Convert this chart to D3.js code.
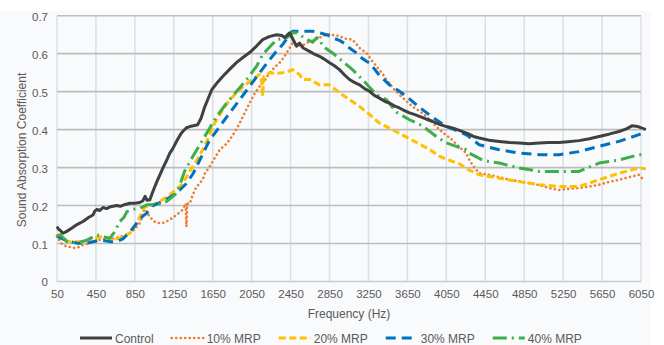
<!DOCTYPE html>
<html>
<head>
<meta charset="utf-8">
<script src="https://cdn.jsdelivr.net/npm/d3@7"></script>
<style>
  body { margin: 0; background: #fff; }
  text { font-family: "Liberation Sans", Arial, sans-serif; fill: #595959; }
</style>
</head>
<body>
<div id="chart"></div>
<script>
// chart size
var svgWidth = 664;
var svgHeight = 345;

// data: [frequency (Hz), coefficient]
var xTicks = d3.range(50, 6051, 400);
var yTicks = [0, 0.1, 0.2, 0.3, 0.4, 0.5, 0.6, 0.7];
var seriesNames = ["Control", "10% MRP", "20% MRP", "30% MRP", "40% MRP"];

var control = [[50,0.145],[65,0.138],[81,0.135],[112,0.127],[150,0.132],[200,0.14],[255,0.15],[317,0.158],[370,0.168],[419,0.175],[440,0.186],[460,0.19],[490,0.187],[522,0.195],[560,0.192],[600,0.197],[665,0.2],[700,0.198],[750,0.203],[800,0.206],[850,0.206],[900,0.208],[930,0.212],[955,0.224],[975,0.214],[1004,0.215],[1035,0.237],[1076,0.263],[1106,0.28],[1140,0.3],[1178,0.32],[1209,0.338],[1240,0.35],[1280,0.37],[1320,0.388],[1342,0.395],[1380,0.405],[1414,0.408],[1450,0.41],[1496,0.413],[1530,0.43],[1568,0.46],[1600,0.48],[1640,0.505],[1700,0.525],[1752,0.54],[1820,0.558],[1896,0.577],[1960,0.59],[2029,0.603],[2100,0.62],[2163,0.637],[2230,0.645],[2306,0.65],[2360,0.648],[2388,0.642],[2420,0.65],[2440,0.655],[2470,0.64],[2511,0.62],[2542,0.628],[2580,0.615],[2645,0.606],[2700,0.598],[2747,0.593],[2800,0.585],[2850,0.576],[2900,0.568],[2952,0.558],[3000,0.545],[3055,0.532],[3100,0.525],[3158,0.518],[3210,0.508],[3260,0.501],[3310,0.49],[3363,0.483],[3420,0.474],[3465,0.47],[3520,0.462],[3568,0.457],[3620,0.45],[3671,0.444],[3720,0.44],[3773,0.435],[3840,0.428],[3906,0.422],[3980,0.414],[4050,0.408],[4120,0.404],[4183,0.398],[4265,0.39],[4330,0.382],[4388,0.378],[4490,0.372],[4593,0.369],[4700,0.366],[4798,0.365],[4900,0.363],[5004,0.365],[5100,0.366],[5209,0.366],[5300,0.368],[5414,0.371],[5520,0.376],[5619,0.382],[5720,0.388],[5824,0.395],[5900,0.402],[5957,0.41],[6020,0.408],[6060,0.404],[6100,0.4]];

var mrp10 = [[50,0.12],[81,0.105],[112,0.096],[153,0.092],[200,0.09],[235,0.088],[286,0.092],[330,0.098],[380,0.1],[430,0.105],[491,0.11],[560,0.112],[624,0.113],[700,0.118],[768,0.122],[799,0.128],[850,0.138],[901,0.154],[930,0.175],[953,0.197],[975,0.18],[1004,0.171],[1040,0.16],[1076,0.154],[1137,0.154],[1190,0.16],[1240,0.168],[1300,0.18],[1342,0.189],[1372,0.205],[1380,0.145],[1388,0.205],[1414,0.205],[1445,0.228],[1480,0.248],[1517,0.259],[1547,0.268],[1570,0.285],[1619,0.303],[1670,0.325],[1722,0.347],[1780,0.36],[1824,0.373],[1880,0.395],[1927,0.417],[1980,0.445],[2029,0.47],[2080,0.495],[2132,0.514],[2190,0.532],[2235,0.55],[2290,0.565],[2337,0.576],[2380,0.59],[2409,0.602],[2440,0.615],[2470,0.628],[2511,0.62],[2573,0.622],[2614,0.628],[2680,0.635],[2747,0.642],[2800,0.648],[2850,0.652],[2900,0.648],[2952,0.647],[3000,0.64],[3055,0.638],[3086,0.637],[3127,0.625],[3158,0.615],[3229,0.602],[3290,0.58],[3332,0.567],[3400,0.545],[3434,0.532],[3500,0.51],[3568,0.492],[3640,0.475],[3701,0.461],[3780,0.448],[3845,0.435],[3910,0.418],[3978,0.4],[4050,0.385],[4111,0.373],[4180,0.355],[4255,0.338],[4286,0.32],[4330,0.303],[4388,0.285],[4491,0.281],[4593,0.275],[4696,0.268],[4798,0.264],[4901,0.259],[5004,0.254],[5106,0.246],[5209,0.241],[5300,0.244],[5414,0.246],[5520,0.25],[5619,0.255],[5720,0.262],[5824,0.268],[5930,0.275],[6029,0.281],[6060,0.272]];

var mrp20 = [[50,0.12],[81,0.123],[112,0.11],[183,0.105],[255,0.105],[317,0.105],[419,0.114],[522,0.118],[594,0.112],[624,0.109],[700,0.115],[727,0.118],[800,0.128],[829,0.136],[870,0.155],[901,0.171],[953,0.197],[1004,0.2],[1060,0.205],[1106,0.211],[1160,0.22],[1209,0.228],[1260,0.24],[1311,0.25],[1342,0.259],[1380,0.275],[1414,0.29],[1445,0.303],[1500,0.325],[1547,0.347],[1600,0.375],[1650,0.408],[1700,0.43],[1752,0.452],[1824,0.479],[1927,0.505],[2029,0.527],[2100,0.54],[2132,0.545],[2150,0.535],[2163,0.488],[2175,0.54],[2235,0.55],[2300,0.548],[2368,0.55],[2420,0.553],[2470,0.558],[2511,0.55],[2542,0.545],[2573,0.532],[2645,0.532],[2747,0.518],[2850,0.518],[2952,0.497],[3055,0.479],[3158,0.461],[3260,0.44],[3363,0.417],[3434,0.408],[3568,0.39],[3701,0.372],[3773,0.362],[3876,0.348],[3978,0.33],[4050,0.322],[4183,0.31],[4265,0.296],[4388,0.281],[4593,0.272],[4798,0.263],[5004,0.255],[5209,0.25],[5414,0.25],[5619,0.268],[5824,0.285],[6029,0.299],[6100,0.297]];

var mrp30 = [[50,0.12],[81,0.115],[112,0.112],[183,0.105],[255,0.101],[358,0.101],[491,0.109],[594,0.105],[665,0.105],[727,0.112],[768,0.123],[829,0.14],[870,0.154],[930,0.172],[973,0.18],[1035,0.2],[1106,0.208],[1137,0.211],[1209,0.222],[1240,0.226],[1311,0.241],[1383,0.259],[1450,0.285],[1517,0.32],[1619,0.373],[1722,0.408],[1824,0.444],[1927,0.479],[2029,0.514],[2132,0.55],[2235,0.584],[2300,0.605],[2368,0.624],[2440,0.65],[2470,0.659],[2573,0.659],[2676,0.659],[2717,0.657],[2819,0.65],[2900,0.64],[2952,0.635],[3024,0.624],[3055,0.615],[3127,0.602],[3158,0.593],[3229,0.58],[3260,0.576],[3363,0.543],[3465,0.518],[3500,0.512],[3568,0.501],[3671,0.481],[3773,0.459],[3906,0.433],[4050,0.408],[4183,0.395],[4265,0.385],[4388,0.36],[4593,0.347],[4798,0.338],[5004,0.334],[5209,0.334],[5414,0.342],[5619,0.356],[5824,0.369],[6029,0.387],[6100,0.395]];

var mrp40 = [[50,0.12],[81,0.123],[153,0.105],[255,0.101],[358,0.109],[460,0.123],[522,0.118],[594,0.114],[640,0.13],[696,0.158],[740,0.17],[768,0.184],[829,0.19],[901,0.193],[973,0.202],[1076,0.202],[1178,0.211],[1281,0.233],[1320,0.26],[1360,0.29],[1445,0.329],[1547,0.373],[1691,0.435],[1794,0.47],[1896,0.501],[1999,0.532],[2101,0.567],[2163,0.598],[2306,0.637],[2409,0.642],[2470,0.655],[2511,0.655],[2614,0.638],[2676,0.63],[2717,0.642],[2747,0.64],[2778,0.62],[2881,0.602],[3024,0.571],[3086,0.558],[3188,0.532],[3332,0.492],[3434,0.479],[3537,0.446],[3671,0.426],[3804,0.41],[3947,0.382],[4050,0.365],[4152,0.356],[4255,0.347],[4286,0.338],[4419,0.32],[4491,0.316],[4593,0.312],[4798,0.299],[5004,0.29],[5209,0.29],[5414,0.29],[5619,0.312],[5824,0.32],[6029,0.334],[6080,0.334]];

var seriesData = [control, mrp10, mrp20, mrp30, mrp40];

// line styles per series
var styles = [
  { color: "#404040", width: 3, dash: null, cap: "butt" },
  { color: "#ED7D31", width: 2.6, dash: "0.1,4.4", cap: "round" },
  { color: "#FFC000", width: 3, dash: "7,3.5", cap: "butt" },
  { color: "#0070C0", width: 3, dash: "10,6", cap: "butt" },
  { color: "#3DAE49", width: 3, dash: "14,5,2,5", cap: "butt" }
];

var svg = d3.select("#chart")
  .append("svg")
  .attr("width", svgWidth)
  .attr("height", svgHeight);

// faint chart background
svg.append("rect")
  .attr("x", 0).attr("y", 11)
  .attr("width", 651).attr("height", svgHeight - 11)
  .attr("fill", "#f9fafb");

var xScale = d3.scaleLinear().domain([50, 6050]).range([57, 641]);
var yScale = d3.scaleLinear().domain([0, 0.7]).range([281.5, 15.7]);

// vertical grid
svg.append("g")
  .selectAll("line")
  .data(xTicks)
  .enter()
  .append("line")
  .attr("x1", d => xScale(d)).attr("x2", d => xScale(d))
  .attr("y1", yScale(0.7)).attr("y2", yScale(0))
  .attr("stroke", "#d8e0e5")
  .attr("stroke-width", 1.5);

// horizontal grid
svg.append("g")
  .selectAll("line")
  .data(yTicks)
  .enter()
  .append("line")
  .attr("x1", xScale(50)).attr("x2", xScale(6050))
  .attr("y1", d => yScale(d)).attr("y2", d => yScale(d))
  .attr("stroke", d => d === 0 ? "#c8ccd0" : "#bdbdbd")
  .attr("stroke-width", 1.6);

// x axis labels
var xAxis = d3.axisBottom(xScale).tickValues(xTicks).tickSize(0).tickPadding(0)
  .tickFormat(d3.format("d"));
var xg = svg.append("g")
  .attr("transform", "translate(0, 290)")
  .call(xAxis);
xg.select(".domain").remove();
xg.selectAll("text").attr("font-size", "11.5px").attr("fill", "#595959")
  .attr("font-family", "Liberation Sans, Arial, sans-serif");

// y axis labels
var yAxis = d3.axisLeft(yScale).tickValues(yTicks).tickSize(0).tickPadding(0)
  .tickFormat(d => d === 0 ? "0" : d3.format(".1f")(d));
var yg = svg.append("g")
  .attr("transform", "translate(48, 0.8)")
  .call(yAxis);
yg.select(".domain").remove();
yg.selectAll("text").attr("font-size", "11.5px").attr("fill", "#595959")
  .attr("font-family", "Liberation Sans, Arial, sans-serif");

// axis titles
svg.append("text")
  .attr("x", (xScale(50) + xScale(6050)) / 2)
  .attr("y", 318)
  .attr("text-anchor", "middle")
  .attr("font-size", "12px")
  .text("Frequency (Hz)");

svg.append("text")
  .attr("transform", "rotate(-90)")
  .attr("x", -150)
  .attr("y", 26)
  .attr("text-anchor", "middle")
  .attr("font-size", "12px")
  .text("Sound Absorption Coefficient");

// curves
var line = d3.line()
  .x(d => xScale(d[0]))
  .y(d => yScale(d[1]));

var drawOrder = [1, 2, 3, 4, 0];
drawOrder.forEach(function(i) {
  var s = styles[i];
  svg.append("path")
    .datum(seriesData[i])
    .attr("fill", "none")
    .attr("stroke", s.color)
    .attr("stroke-width", s.width)
    .attr("stroke-dasharray", s.dash)
    .attr("stroke-linecap", s.cap)
    .attr("stroke-linejoin", "round")
    .attr("d", line);
});

// legend
var legend = svg.append("g");
var lx = 80;
var ly = 338;
seriesNames.forEach(function(name, i) {
  var s = styles[i];
  legend.append("line")
    .attr("x1", lx).attr("x2", lx + 32)
    .attr("y1", ly).attr("y2", ly)
    .attr("stroke", s.color)
    .attr("stroke-width", s.width)
    .attr("stroke-dasharray", s.dash)
    .attr("stroke-linecap", s.cap);
  var t = legend.append("text")
    .attr("x", lx + 35)
    .attr("y", ly + 4.5)
    .attr("font-size", "12px")
    .text(name);
  lx += 35 + t.node().getComputedTextLength() + 18;
});
</script>
</body>
</html>
